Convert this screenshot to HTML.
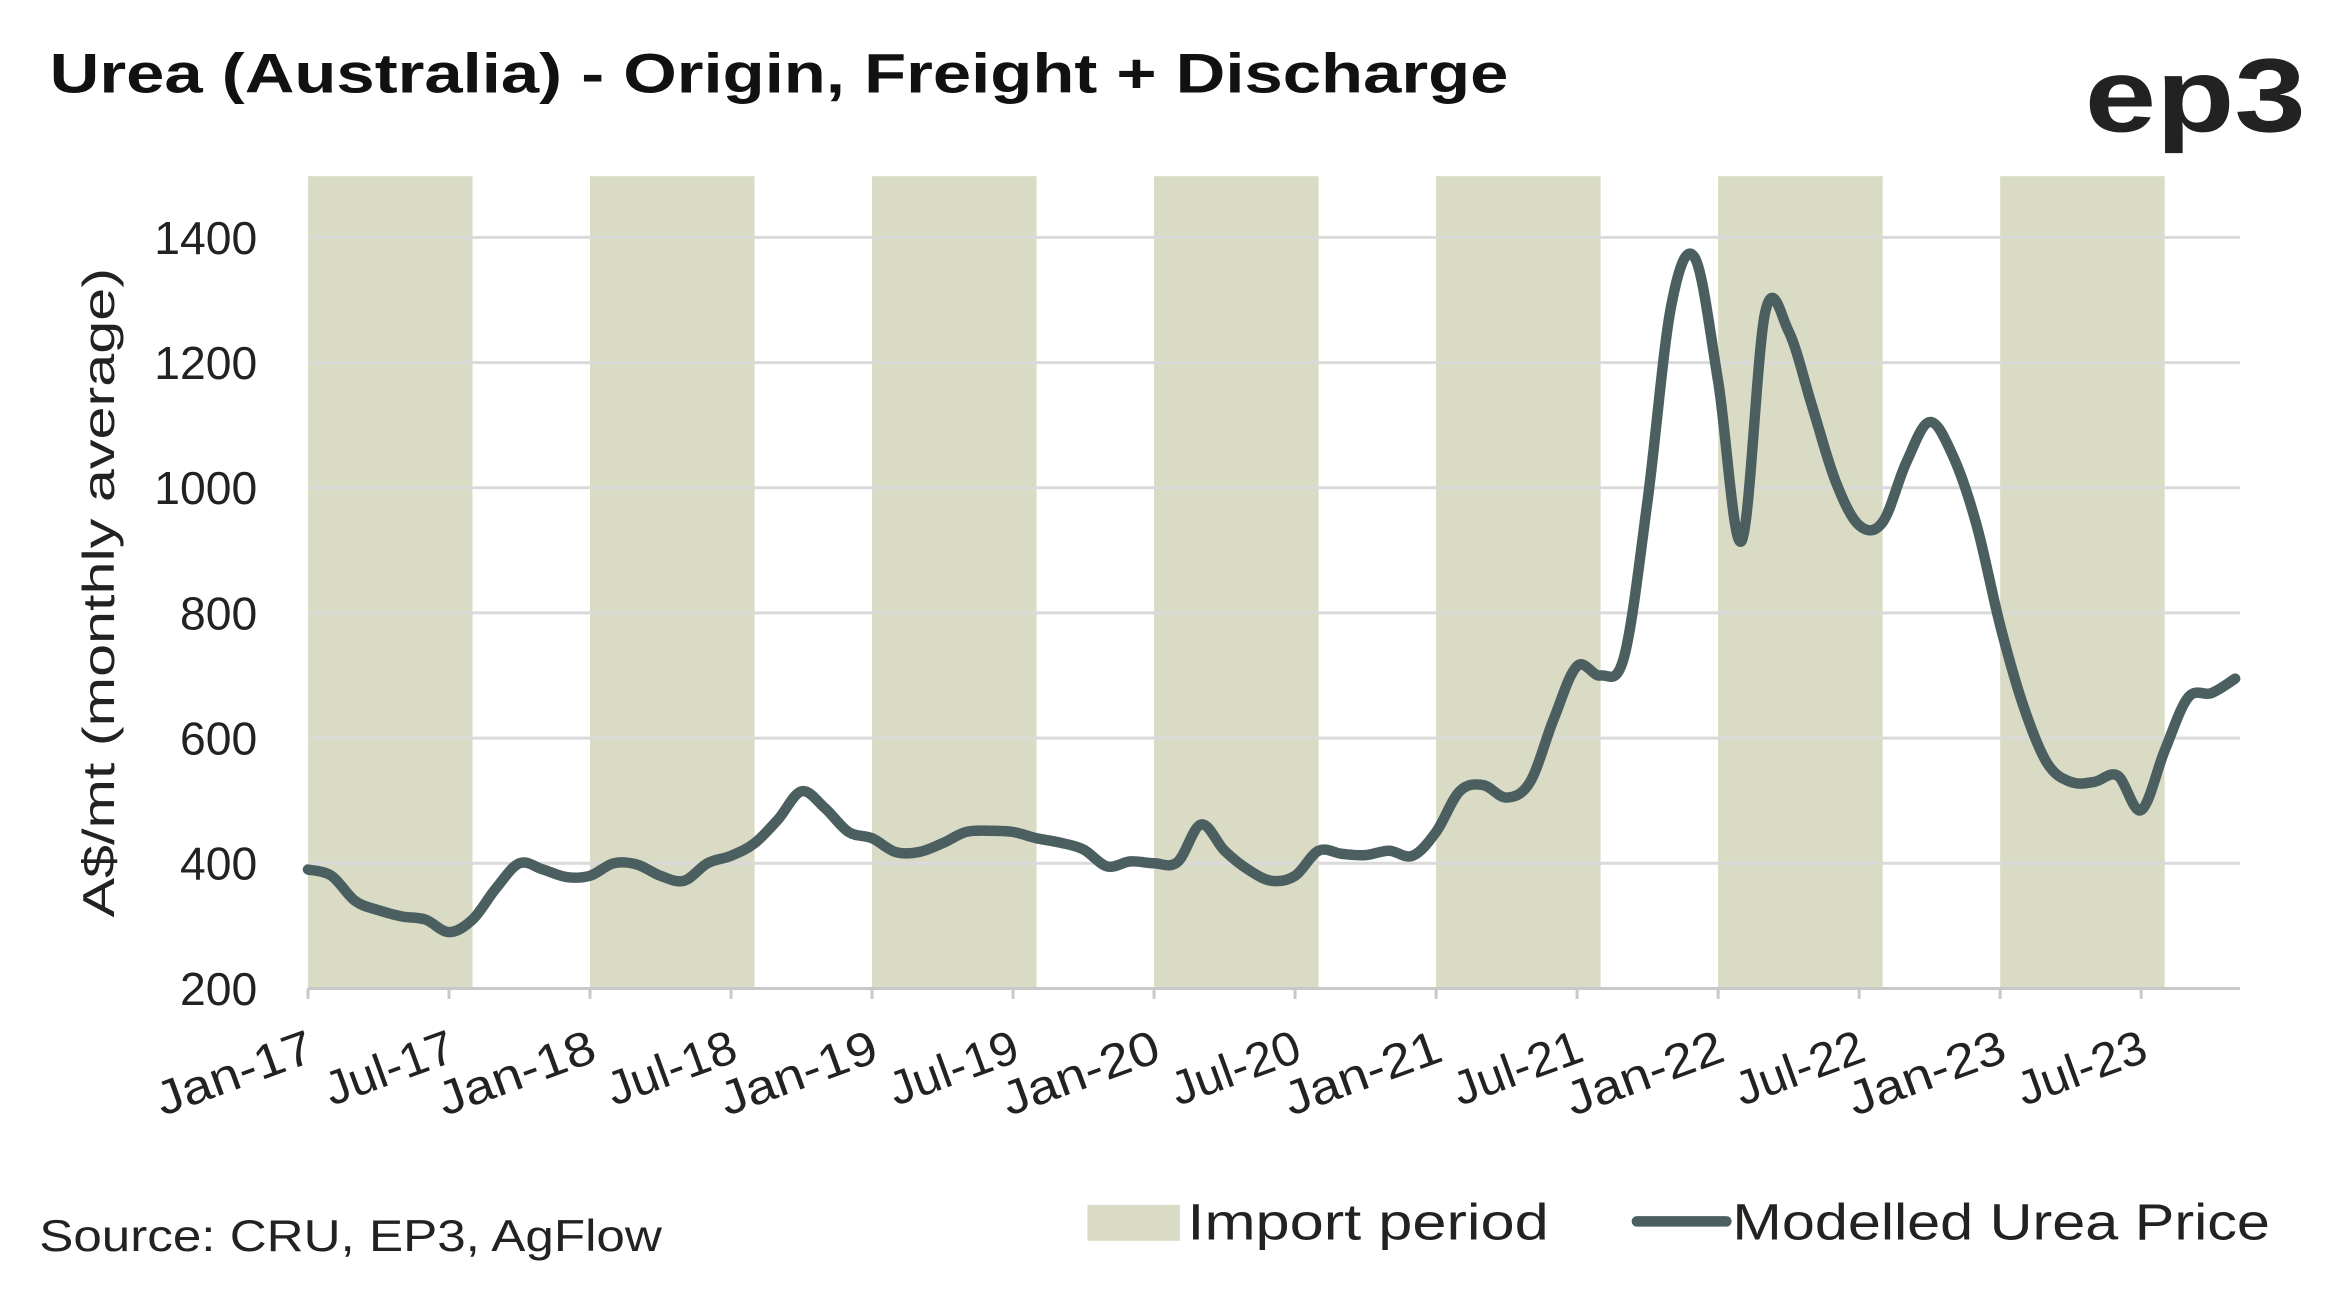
<!DOCTYPE html>
<html><head><meta charset="utf-8"><style>
html,body{margin:0;padding:0;background:#fff;}
svg{display:block;font-family:"Liberation Sans",sans-serif;}
</style></head><body>
<svg id="chart" width="2342" height="1302" viewBox="0 0 1568 872" xmlns="http://www.w3.org/2000/svg">
<rect width="1568" height="872" fill="#fff"/>
<text x="33" y="62" font-size="37" font-weight="bold" fill="#111" textLength="977" lengthAdjust="spacingAndGlyphs">Urea (Australia) - Origin, Freight + Discharge</text>
<text x="1544" y="88" font-size="70" font-weight="bold" fill="#222" text-anchor="end" textLength="148" lengthAdjust="spacingAndGlyphs">ep3</text>
<g id="bands"></g>
<g id="grid"></g>
<g id="yticks"></g>
<g id="xticks"></g>
<path id="line" fill="none" stroke="#4b5f60" stroke-width="7" stroke-linecap="round" stroke-linejoin="round"/>
<text transform="translate(76,397) rotate(-90)" font-size="30" fill="#222" text-anchor="middle" textLength="435" lengthAdjust="spacingAndGlyphs">A$/mt (monthly average)</text>
<text x="26" y="838" font-size="30" fill="#222" textLength="417" lengthAdjust="spacingAndGlyphs">Source: CRU, EP3, AgFlow</text>
<rect x="728" y="807" width="62" height="24" fill="#d9dbc5"/>
<text x="795" y="830" font-size="34" fill="#222" textLength="242" lengthAdjust="spacingAndGlyphs">Import period</text>
<line x1="1096" y1="818" x2="1156" y2="818" stroke="#4b5f60" stroke-width="7" stroke-linecap="round"/>
<text x="1160" y="830" font-size="34" fill="#222" textLength="360" lengthAdjust="spacingAndGlyphs">Modelled Urea Price</text>
</svg>
<script>
const xLabels=["Jan-17","Jul-17","Jan-18","Jul-18","Jan-19","Jul-19","Jan-20","Jul-20","Jan-21","Jul-21","Jan-22","Jul-22","Jan-23","Jul-23"];
const yTicks=[200,400,600,800,1000,1200,1400];
const bandStarts=[0,12,24,36,48,60,72];
const prices=[390,380,340,325,315,310,290,310,360,400,390,378,380,400,398,380,372,400,412,432,470,515,488,450,440,418,418,432,450,452,450,440,433,422,395,403,400,402,462,420,390,372,380,420,415,413,420,412,450,515,525,505,530,630,715,700,730,980,1290,1368,1170,915,1280,1250,1130,1010,940,945,1040,1105,1050,940,780,650,560,530,530,540,485,580,665,672,695];
const NS="http://www.w3.org/2000/svg";
const x0=206,mw=15.78,xr=1500;
const X=i=>x0+i*mw*0.9975;
const Y=v=>662-(v-200)*(503/1200);
function mk(t,a,p){const e=document.createElementNS(NS,t);for(const k in a)e.setAttribute(k,a[k]);p.appendChild(e);return e;}
const bands=document.getElementById('bands');
bandStarts.forEach(s=>{const r=mk('rect',{x:X(s),y:118,width:X(s+7)-X(s),height:544,fill:'#d9dbc5'},bands);

});
const grid=document.getElementById('grid'),yt=document.getElementById('yticks');
yTicks.forEach(v=>{const l=mk('line',{x1:x0,x2:xr,y1:Y(v),y2:Y(v),stroke:v===200?'#c8c8c8':'#dadada','stroke-width':2},grid);


const t=mk('text',{x:172,y:Y(v)+11,'font-size':31,fill:'#222','text-anchor':'end'},yt);t.textContent=v;

});
const xt=document.getElementById('xticks');
xLabels.forEach((s,i)=>{const x=X(i*6);
const tk=mk('line',{x1:x,x2:x,y1:662,y2:669,stroke:'#c8c8c8','stroke-width':2},xt);


const t=mk('text',{transform:`translate(${x+6},${710}) rotate(-20)`,'font-size':32,fill:'#222','text-anchor':'end',textLength:s.startsWith('Jan')?110:90,lengthAdjust:'spacingAndGlyphs'},xt);t.textContent=s;

});
const pts=prices.map((v,i)=>[X(i),Y(v)]);
let d=`M${pts[0][0]},${pts[0][1]}`;
for(let i=0;i<pts.length-1;i++){const p0=pts[Math.max(0,i-1)],p1=pts[i],p2=pts[i+1],p3=pts[Math.min(pts.length-1,i+2)];
const t=0.17;
d+=` C${p1[0]+(p2[0]-p0[0])*t},${p1[1]+(p2[1]-p0[1])*t} ${p2[0]-(p3[0]-p1[0])*t},${p2[1]-(p3[1]-p1[1])*t} ${p2[0]},${p2[1]}`;}
document.getElementById('line').setAttribute('d',d);
</script>
</body></html>
